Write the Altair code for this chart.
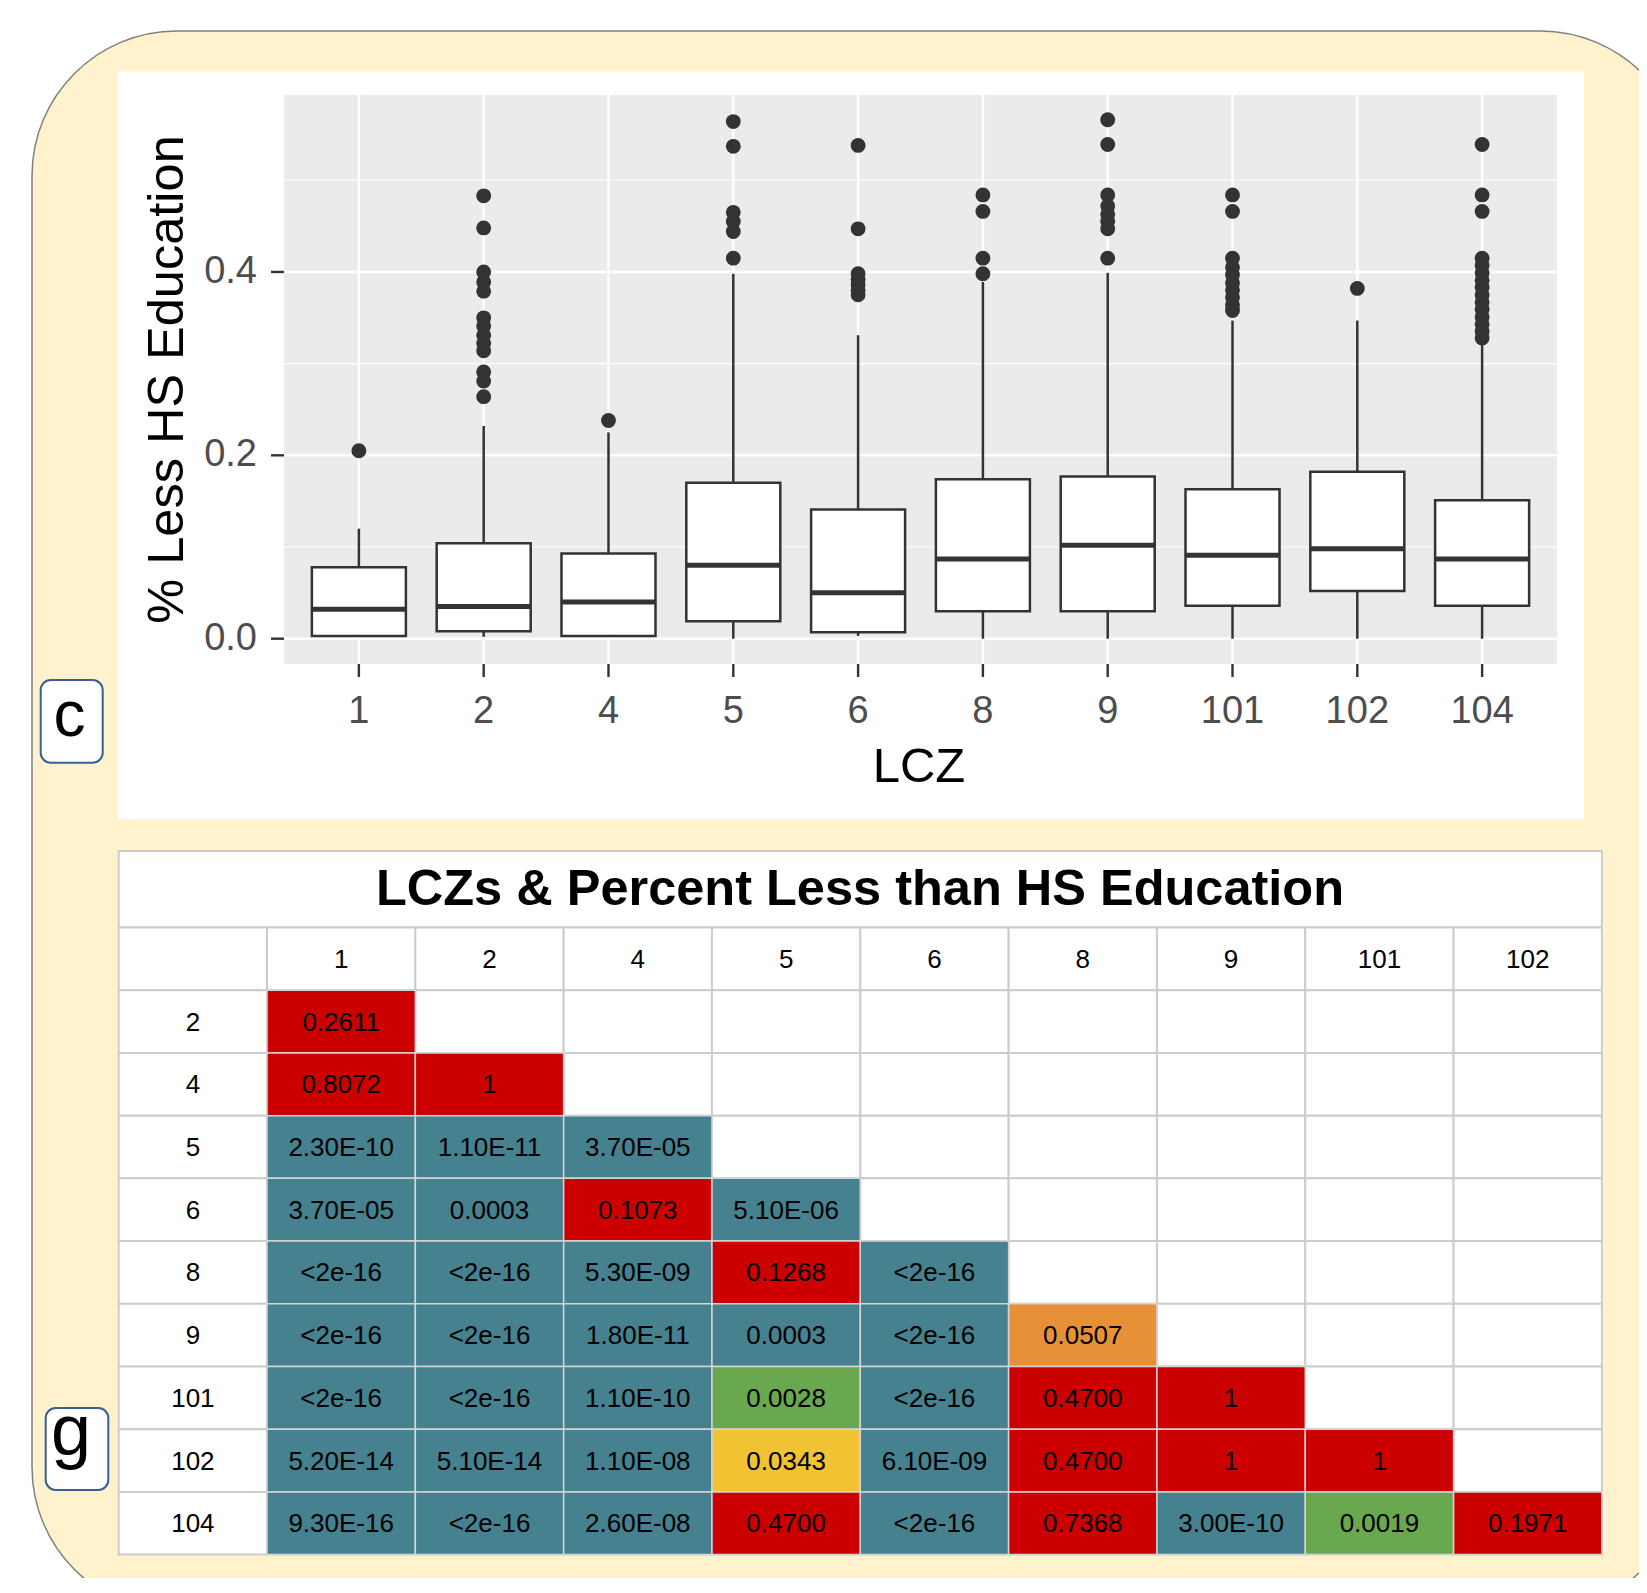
import altair as alt
import pandas as pd

# ---------------- boxplot data (panel c) ----------------
LCZ = ["1", "2", "4", "5", "6", "8", "9", "101", "102", "104"]
Q1 = [0.003, 0.008, 0.003, 0.019, 0.007, 0.030, 0.030, 0.036, 0.052, 0.036]
MEDIAN = [0.032, 0.035, 0.040, 0.080, 0.050, 0.087, 0.102, 0.091, 0.098, 0.087]
Q3 = [0.078, 0.104, 0.093, 0.170, 0.141, 0.174, 0.177, 0.163, 0.182, 0.151]
WHISK_LO = [0.003, 0.002, 0.003, 0.000, 0.003, 0.000, 0.000, 0.000, 0.000, 0.000]
WHISK_HI = [0.120, 0.232, 0.225, 0.398, 0.331, 0.389, 0.399, 0.347, 0.347, 0.321]

OUT_1 = [0.205]
OUT_2 = [0.483, 0.448, 0.400, 0.389, 0.379, 0.350, 0.341, 0.331, 0.322, 0.314, 0.291, 0.281, 0.264]
OUT_4 = [0.238]
OUT_5 = [0.564, 0.537, 0.465, 0.455, 0.444, 0.415]
OUT_6 = [0.538, 0.447, 0.398, 0.392, 0.386, 0.380, 0.375]
OUT_8 = [0.484, 0.466, 0.415, 0.398]
OUT_9 = [0.566, 0.539, 0.484, 0.472, 0.463, 0.455, 0.447, 0.415]
OUT_101 = [0.484, 0.466, 0.415, 0.405, 0.397, 0.388, 0.380, 0.372, 0.364, 0.358]
OUT_102 = [0.382]
OUT_104 = [0.539, 0.484, 0.466, 0.415, 0.407, 0.399, 0.391, 0.383, 0.375, 0.367,
           0.359, 0.351, 0.343, 0.335, 0.328]
OUTLIERS = [OUT_1, OUT_2, OUT_4, OUT_5, OUT_6, OUT_8, OUT_9, OUT_101, OUT_102, OUT_104]

Y_MAJOR = [0.0, 0.2, 0.4]
Y_MAJOR_LABELS = ["0.0", "0.2", "0.4"]
Y_MINOR = [0.1, 0.3, 0.5]

# ---------------- table data (panel g) ----------------
TABLE_TITLE = "LCZs & Percent Less than HS Education"
TABLE_COLS = ["1", "2", "4", "5", "6", "8", "9", "101", "102"]
TABLE_ROWS = ["2", "4", "5", "6", "8", "9", "101", "102", "104"]
P_ROW_2 = ["0.2611"]
P_ROW_4 = ["0.8072", "1"]
P_ROW_5 = ["2.30E-10", "1.10E-11", "3.70E-05"]
P_ROW_6 = ["3.70E-05", "0.0003", "0.1073", "5.10E-06"]
P_ROW_8 = ["<2e-16", "<2e-16", "5.30E-09", "0.1268", "<2e-16"]
P_ROW_9 = ["<2e-16", "<2e-16", "1.80E-11", "0.0003", "<2e-16", "0.0507"]
P_ROW_101 = ["<2e-16", "<2e-16", "1.10E-10", "0.0028", "<2e-16", "0.4700", "1"]
P_ROW_102 = ["5.20E-14", "5.10E-14", "1.10E-08", "0.0343", "6.10E-09", "0.4700", "1", "1"]
P_ROW_104 = ["9.30E-16", "<2e-16", "2.60E-08", "0.4700", "<2e-16", "0.7368",
             "3.00E-10", "0.0019", "0.1971"]
P_ROWS = [P_ROW_2, P_ROW_4, P_ROW_5, P_ROW_6, P_ROW_8, P_ROW_9, P_ROW_101, P_ROW_102, P_ROW_104]

SIG_BREAKS = [0.001, 0.01, 0.05, 0.1]
SIG_COLORS = ["#45818E", "#6AA84F", "#F1C232", "#E69138", "#CC0000"]

# ---------------- build tables ----------------
box_df = pd.DataFrame({"LCZ": LCZ, "q1": Q1, "median": MEDIAN, "q3": Q3,
                       "lo": WHISK_LO, "hi": WHISK_HI})
out_df = pd.DataFrame([{"LCZ": z, "value": v} for z, vals in zip(LCZ, OUTLIERS) for v in vals])
major_df = pd.DataFrame({"tick": Y_MAJOR, "label": Y_MAJOR_LABELS})
minor_df = pd.DataFrame({"tick": Y_MINOR})

ROWLAB = "rowlab"
HDR = "hdr"
col_domain = [ROWLAB] + TABLE_COLS
row_domain = [HDR] + TABLE_ROWS

all_cells = pd.DataFrame([{"trow": r, "tcol": c} for r in row_domain for c in col_domain])
p_records, text_records = [], []
for c in TABLE_COLS:
    text_records.append({"trow": HDR, "tcol": c, "label": c})
for r, vals in zip(TABLE_ROWS, P_ROWS):
    text_records.append({"trow": r, "tcol": ROWLAB, "label": r})
    for c, s in zip(TABLE_COLS, vals):
        p_records.append({"trow": r, "tcol": c, "p": float(s.lstrip("<"))})
        text_records.append({"trow": r, "tcol": c, "label": s})
p_df = pd.DataFrame(p_records)
text_df = pd.DataFrame(text_records)

FONT = "Liberation Sans"
OFF = 8.0  # page margin


def px(v):
    return v - OFF


dummy = pd.DataFrame({"k": [0]})


def deco_rect(x1, y1, x2, y2, **kw):
    return alt.Chart(dummy).mark_rect(**kw).encode(
        x=alt.value(px(x1)), x2=alt.value(px(x2)), y=alt.value(px(y1)), y2=alt.value(px(y2)))


def deco_text(txt, x, y, **kw):
    return alt.Chart(dummy).mark_text(text=txt, font=FONT, **kw).encode(
        x=alt.value(px(x)), y=alt.value(px(y)))


# ---------------- decorations ----------------
cream = deco_rect(32, 31, 1685, 1612, cornerRadius=145, fill="#FFF2CC",
                  stroke="#808080", strokeWidth=1.5)
white_panel = deco_rect(117.6, 71.4, 1584, 819.3, fill="white")
grey_panel = deco_rect(284, 95, 1557, 664, fill="#EBEBEB")
c_box = deco_rect(40.7, 680, 102.7, 762.7, fill="white", stroke="#3A5F95",
                  strokeWidth=2, cornerRadius=10)
g_box = deco_rect(45.7, 1408, 108.3, 1490, fill="white", stroke="#3A5F95",
                  strokeWidth=2, cornerRadius=10)
c_text = deco_text("c", 69.5, 736, fontSize=64, baseline="alphabetic", align="center", color="black")
g_text = deco_text("g", 71, 1455, fontSize=72, baseline="alphabetic", align="center", color="black")

# ---------------- boxplot ----------------
xs = alt.Scale(type="point", domain=LCZ, range=[px(284), px(1557)], padding=0.6)
ys = alt.Scale(domain=[-0.0276, 0.593], range=[px(664), px(95)], nice=False, zero=False)
X = alt.X("LCZ:N", scale=xs, axis=None)

grid_major = alt.Chart(major_df).mark_rule(color="white", strokeWidth=2.4).encode(
    y=alt.Y("tick:Q", scale=ys, axis=None), x=alt.value(px(284)), x2=alt.value(px(1557)))
grid_minor = alt.Chart(minor_df).mark_rule(color="white", strokeWidth=1.2).encode(
    y=alt.Y("tick:Q", scale=ys, axis=None), x=alt.value(px(284)), x2=alt.value(px(1557)))
grid_x = alt.Chart(box_df).mark_rule(color="white", strokeWidth=2.4).encode(
    x=X, y=alt.value(px(95)), y2=alt.value(px(664)))
wl = alt.Chart(box_df).mark_rule(color="#333333", strokeWidth=2.5).encode(
    x=X, y=alt.Y("lo:Q", scale=ys, axis=None), y2="q1:Q")
wh = alt.Chart(box_df).mark_rule(color="#333333", strokeWidth=2.5).encode(
    x=X, y=alt.Y("q3:Q", scale=ys, axis=None), y2="hi:Q")
boxes = alt.Chart(box_df).mark_bar(size=94, fill="white", stroke="#333333", strokeWidth=2.5).encode(
    x=X, y=alt.Y("q1:Q", scale=ys, axis=None), y2="q3:Q")
meds = alt.Chart(box_df).mark_tick(size=94, thickness=5, color="#333333", opacity=1).encode(
    x=X, y=alt.Y("median:Q", scale=ys, axis=None))
outs = alt.Chart(out_df).mark_circle(size=220, color="#333333", opacity=1).encode(
    x=X, y=alt.Y("value:Q", scale=ys, axis=None))
yticks = alt.Chart(major_df).mark_rule(color="#333333", strokeWidth=2.4).encode(
    y=alt.Y("tick:Q", scale=ys, axis=None), x=alt.value(px(271)), x2=alt.value(px(284)))
ylabels = alt.Chart(major_df).mark_text(align="right", baseline="middle", fontSize=38,
                                         color="#4D4D4D", font=FONT).encode(
    y=alt.Y("tick:Q", scale=ys, axis=None), x=alt.value(px(257)), text="label:N")
xticks = alt.Chart(box_df).mark_rule(color="#333333", strokeWidth=2.4).encode(
    x=X, y=alt.value(px(664)), y2=alt.value(px(677)))
xlabels = alt.Chart(box_df).mark_text(baseline="middle", fontSize=38, color="#4D4D4D",
                                      font=FONT).encode(
    x=X, y=alt.value(px(712)), text="LCZ:N")

boxplot = alt.layer(grid_minor, grid_major, grid_x, wl, wh, boxes, meds, outs,
                    yticks, ylabels, xticks, xlabels)

x_title = deco_text("LCZ", 919, 767, fontSize=49, baseline="middle", align="center", color="black")
y_title = deco_text("% Less HS Education", 168, 379.5, fontSize=50.5, baseline="middle",
                    align="center", angle=270, color="black")

# ---------------- table ----------------
tx = alt.Scale(type="band", domain=col_domain, range=[px(118.7), px(1601.9)],
               paddingInner=0, paddingOuter=0)
ty = alt.Scale(type="band", domain=row_domain, range=[px(927.5), px(1554.6)],
               paddingInner=0, paddingOuter=0)
TX = alt.X("tcol:N", scale=tx, axis=None)
TY = alt.Y("trow:N", scale=ty, axis=None)

cells = alt.Chart(all_cells).mark_rect(fill="white", stroke="#CCCCCC", strokeWidth=2).encode(x=TX, y=TY)
pcells = alt.Chart(p_df).mark_rect(stroke="#D5D5D5", strokeWidth=1.5, opacity=1).encode(
    x=TX, y=TY,
    color=alt.Color("p:Q", scale=alt.Scale(type="threshold", domain=SIG_BREAKS, range=SIG_COLORS),
                    legend=None))
ptext = alt.Chart(text_df).mark_text(fontSize=26, font=FONT, color="black", baseline="middle",
                                     dy=1).encode(
    x=TX, y=TY, text="label:N")
table = alt.layer(cells, pcells, ptext)

title_rect = deco_rect(118.7, 851, 1601.9, 927.5, fill="white", stroke="#CCCCCC", strokeWidth=2)
title_text = deco_text(TABLE_TITLE, 860, 890, fontSize=50.5, fontWeight="bold",
                       baseline="middle", align="center", color="black")

chart = alt.layer(
    cream, white_panel, grey_panel, c_box, g_box, c_text, g_text,
    boxplot, x_title, y_title, title_rect, title_text, table
).resolve_scale(
    x="independent", y="independent", color="independent"
).properties(
    width=1631, height=1570,
    autosize=alt.AutoSizeParams(type="none"),
    padding=0,
    background="white",
).configure_view(strokeWidth=0)

chart.save("out.html", embed_options={"renderer": "svg", "actions": False})
